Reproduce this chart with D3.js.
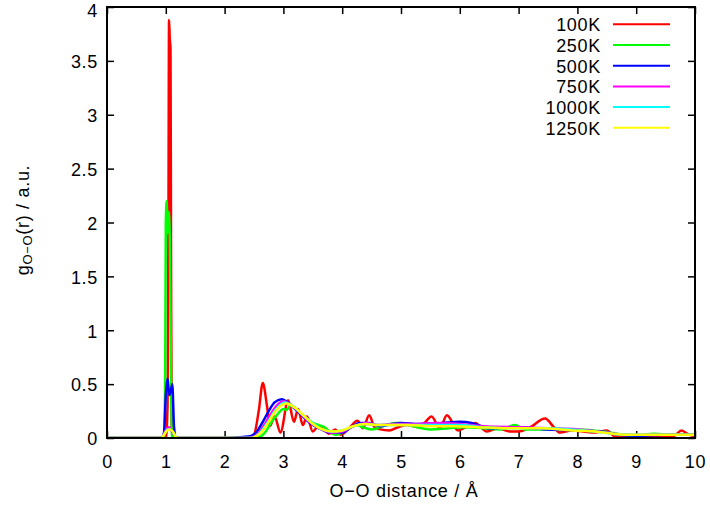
<!DOCTYPE html>
<html><head><meta charset="utf-8">
<script src="https://cdn.jsdelivr.net/npm/d3@7"></script>
<style>
body{margin:0;background:#fff;}
svg{display:block;font-family:"Liberation Sans",Arial,Helvetica,sans-serif;}
svg text{letter-spacing:0.7px;}
</style></head><body>
<svg id="c" width="710" height="509"></svg>
<script>
// ---- data (r in Å, g in a.u.) ----
const labels = ["100K","250K","500K","750K","1000K","1250K"];
const colors = ["#ff0000","#00ff00","#0000ff","#ff00ff","#00ffff","#ffff00"];
const xTicks = [0,1,2,3,4,5,6,7,8,9,10];
const yTicks = [0,0.5,1,1.5,2,2.5,3,3.5,4];

const s100K = [[0,0],[1.0,0],[1.03,0.3],[1.045,2.0],[1.055,3.88],[1.068,3.7],[1.08,3.62],[1.09,1.5],[1.1,0.1],[1.12,0],
 [2.4,0],[2.5,0.03],[2.58,0.25],[2.65,0.51],[2.72,0.3],[2.77,0.11],[2.85,0.2],[2.95,0.05],[3.08,0.35],[3.18,0.15],
 [3.25,0.27],[3.33,0.12],[3.4,0.2],[3.5,0.06],[3.58,0.1],[3.67,0.1],[3.77,0.04],[3.88,0.08],[3.97,0.03],[4.1,0.08],
 [4.26,0.16],[4.35,0.09],[4.46,0.21],[4.55,0.1],[4.65,0.08],[4.8,0.07],[4.95,0.1],[5.1,0.12],[5.3,0.1],[5.4,0.14],
 [5.52,0.2],[5.66,0.09],[5.78,0.21],[5.97,0.07],[6.1,0.1],[6.26,0.14],[6.46,0.06],[6.65,0.09],[6.85,0.06],[7.0,0.06],
 [7.2,0.1],[7.45,0.18],[7.6,0.1],[7.7,0.05],[7.9,0.07],[8.1,0.06],[8.3,0.05],[8.5,0.07],[8.65,0.01],[9.0,0.01],
 [9.5,0.01],[9.65,0.02],[9.77,0.07],[9.9,0.03],[10,0.02]];

const s250K = [[0,0],[0.97,0],[0.99,0.6],[1.0,2.0],[1.015,2.2],[1.03,1.9],[1.05,2.1],[1.07,1.8],[1.09,0.5],[1.11,0],
 [2.5,0],[2.6,0.01],[2.7,0.06],[2.8,0.15],[2.9,0.22],[3.0,0.27],[3.05,0.26],[3.12,0.3],[3.2,0.27],[3.3,0.22],[3.4,0.18],
 [3.5,0.14],[3.6,0.12],[3.7,0.1],[3.8,0.05],[3.9,0.03],[4.0,0.05],[4.15,0.1],[4.25,0.12],[4.35,0.1],[4.5,0.08],
 [4.7,0.11],[4.9,0.14],[5.0,0.14],[5.2,0.11],[5.5,0.08],[5.8,0.09],[6.1,0.1],[6.4,0.09],[6.7,0.08],[6.94,0.12],
 [7.1,0.08],[7.5,0.08],[8.0,0.08],[8.44,0.06],[8.77,0.03],[9.0,0.02],[9.3,0.04],[9.6,0.03],[9.87,0.03],[10,0.03]];

const s500K = [[0,0],[0.93,0],[0.97,0.05],[1.0,0.4],[1.03,0.55],[1.06,0.4],[1.09,0.45],[1.11,0.5],[1.14,0.1],[1.17,0],
 [2.1,0],[2.3,0.01],[2.45,0.02],[2.55,0.06],[2.65,0.15],[2.75,0.25],[2.85,0.33],[2.97,0.36],[3.1,0.32],[3.22,0.26],
 [3.35,0.19],[3.5,0.12],[3.65,0.08],[3.79,0.05],[4.0,0.05],[4.15,0.1],[4.3,0.14],[4.45,0.14],[4.64,0.11],[4.85,0.13],
 [5.0,0.14],[5.3,0.13],[5.7,0.14],[6.0,0.15],[6.2,0.14],[6.5,0.09],[7.0,0.1],[7.5,0.08],[8.0,0.07],[8.4,0.06],
 [8.7,0.03],[9.0,0.02],[9.5,0.03],[10,0.03]];

const s750K = [[0,0],[0.93,0],[0.98,0.05],[1.05,0.1],[1.12,0.05],[1.18,0],[2.4,0],[2.55,0.03],[2.65,0.1],[2.75,0.19],
 [2.87,0.29],[3.0,0.34],[3.12,0.31],[3.25,0.25],[3.4,0.17],[3.55,0.11],[3.7,0.07],[3.85,0.05],[4.0,0.06],[4.2,0.11],
 [4.4,0.14],[4.6,0.12],[4.9,0.13],[5.2,0.13],[5.6,0.14],[6.0,0.13],[6.4,0.11],[7.0,0.1],[7.5,0.09],[8.0,0.08],
 [8.5,0.05],[8.8,0.03],[9.2,0.03],[10,0.03]];

const s1000K = [[0,0],[0.93,0],[0.97,0.03],[1.03,0.08],[1.08,0.08],[1.13,0.05],[1.18,0],[2.45,0],[2.55,0.02],[2.65,0.08],
 [2.75,0.16],[2.88,0.27],[3.02,0.33],[3.18,0.29],[3.32,0.22],[3.47,0.15],[3.6,0.1],[3.82,0.06],[4.0,0.07],[4.2,0.11],
 [4.4,0.13],[4.6,0.12],[4.9,0.12],[5.2,0.12],[5.6,0.12],[6.0,0.12],[6.4,0.1],[6.9,0.09],[7.4,0.09],[7.9,0.08],
 [8.3,0.06],[8.6,0.04],[8.8,0.03],[9.3,0.03],[10,0.03]];

const s1250K = [[0,0],[0.93,0],[0.97,0.03],[1.02,0.07],[1.07,0.08],[1.12,0.06],[1.17,0.01],[1.2,0],[2.45,0],[2.55,0.02],
 [2.65,0.07],[2.75,0.15],[2.88,0.26],[3.05,0.32],[3.2,0.28],[3.34,0.21],[3.48,0.14],[3.62,0.09],[3.85,0.06],[4.0,0.07],
 [4.19,0.11],[4.4,0.13],[4.6,0.12],[4.8,0.12],[5.1,0.12],[5.5,0.11],[5.9,0.11],[6.3,0.1],[6.8,0.09],[7.4,0.09],
 [7.9,0.07],[8.3,0.06],[8.6,0.04],[8.8,0.03],[9.3,0.03],[9.8,0.03],[10,0.03]];

const seriesData = [s100K,s250K,s500K,s750K,s1000K,s1250K];

// ---- layout ----
const L=107, R=695, T=7, B=438;
const svg = d3.select("#c");
const x = d3.scaleLinear().domain([0,10]).range([L,R]);
const y = d3.scaleLinear().domain([0,4]).range([B,T]);

const fs = 18;
const gx = svg.append("g").attr("transform",`translate(0,${B})`)
  .call(d3.axisBottom(x).tickValues(xTicks).tickFormat(d3.format("d")).tickSizeInner(-7).tickSizeOuter(0).tickPadding(17));
const gy = svg.append("g").attr("transform",`translate(${L},0)`)
  .call(d3.axisLeft(y).tickValues(yTicks).tickFormat(d=>String(d)).tickSizeInner(-7).tickSizeOuter(0).tickPadding(9));
const gx2 = svg.append("g").attr("transform",`translate(0,${T})`)
  .call(d3.axisTop(x).tickValues(xTicks).tickFormat("").tickSizeInner(-7).tickSizeOuter(0));
const gy2 = svg.append("g").attr("transform",`translate(${R},0)`)
  .call(d3.axisRight(y).tickValues(yTicks).tickFormat("").tickSizeInner(-7).tickSizeOuter(0));
[gx,gy,gx2,gy2].forEach(g=>{
  g.select(".domain").remove();
  g.selectAll(".tick line").attr("stroke","#000").attr("stroke-width",1.5);
  g.selectAll("text").attr("font-size",fs).attr("fill","#000").attr("font-family","Liberation Sans, Arial, sans-serif");
});
gy.selectAll("text").attr("dy","0.38em");
gy.selectAll(".tick").filter(d=>d===4).select("text").attr("dy","0.52em");

// curves
const line = d3.line().x(d=>x(d[0])).y(d=>y(d[1])).curve(d3.curveMonotoneX);
svg.append("clipPath").attr("id","pc").append("rect").attr("x",L).attr("y",T).attr("width",R-L).attr("height",B-T);
const plot = svg.append("g").attr("clip-path","url(#pc)");
seriesData.forEach((s,i)=>{
  plot.append("path").datum(s).attr("d",line).attr("fill","none")
    .attr("stroke",colors[i]).attr("stroke-width",2.5).attr("stroke-linejoin","round");
});

// frame
svg.append("rect").attr("x",L).attr("y",T).attr("width",R-L).attr("height",B-T)
  .attr("fill","none").attr("stroke","#000").attr("stroke-width",2);

// legend
const leg = svg.append("g");
labels.forEach((lab,i)=>{
  const yy = 24.3 + i*20.7;
  leg.append("text").attr("x",601).attr("y",yy+7).attr("text-anchor","end")
    .attr("font-size",fs).attr("fill","#000").text(lab);
  leg.append("line").attr("x1",613).attr("x2",670).attr("y1",yy).attr("y2",yy)
    .attr("stroke",colors[i]).attr("stroke-width",2);
});

// axis titles
svg.append("text").attr("x",404).attr("y",497).attr("text-anchor","middle")
  .attr("font-size",fs).attr("fill","#000").text("O\u2212O distance / \u00C5");
const yl = svg.append("text").attr("transform","translate(29,220) rotate(-90)")
  .attr("text-anchor","middle").attr("font-size",fs).attr("fill","#000");
yl.append("tspan").text("g");
yl.append("tspan").attr("font-size",13).attr("dy",3).text("O\u2212O");
yl.append("tspan").attr("dy",-3).text("(r) / a.u.");
</script>
</body></html>
